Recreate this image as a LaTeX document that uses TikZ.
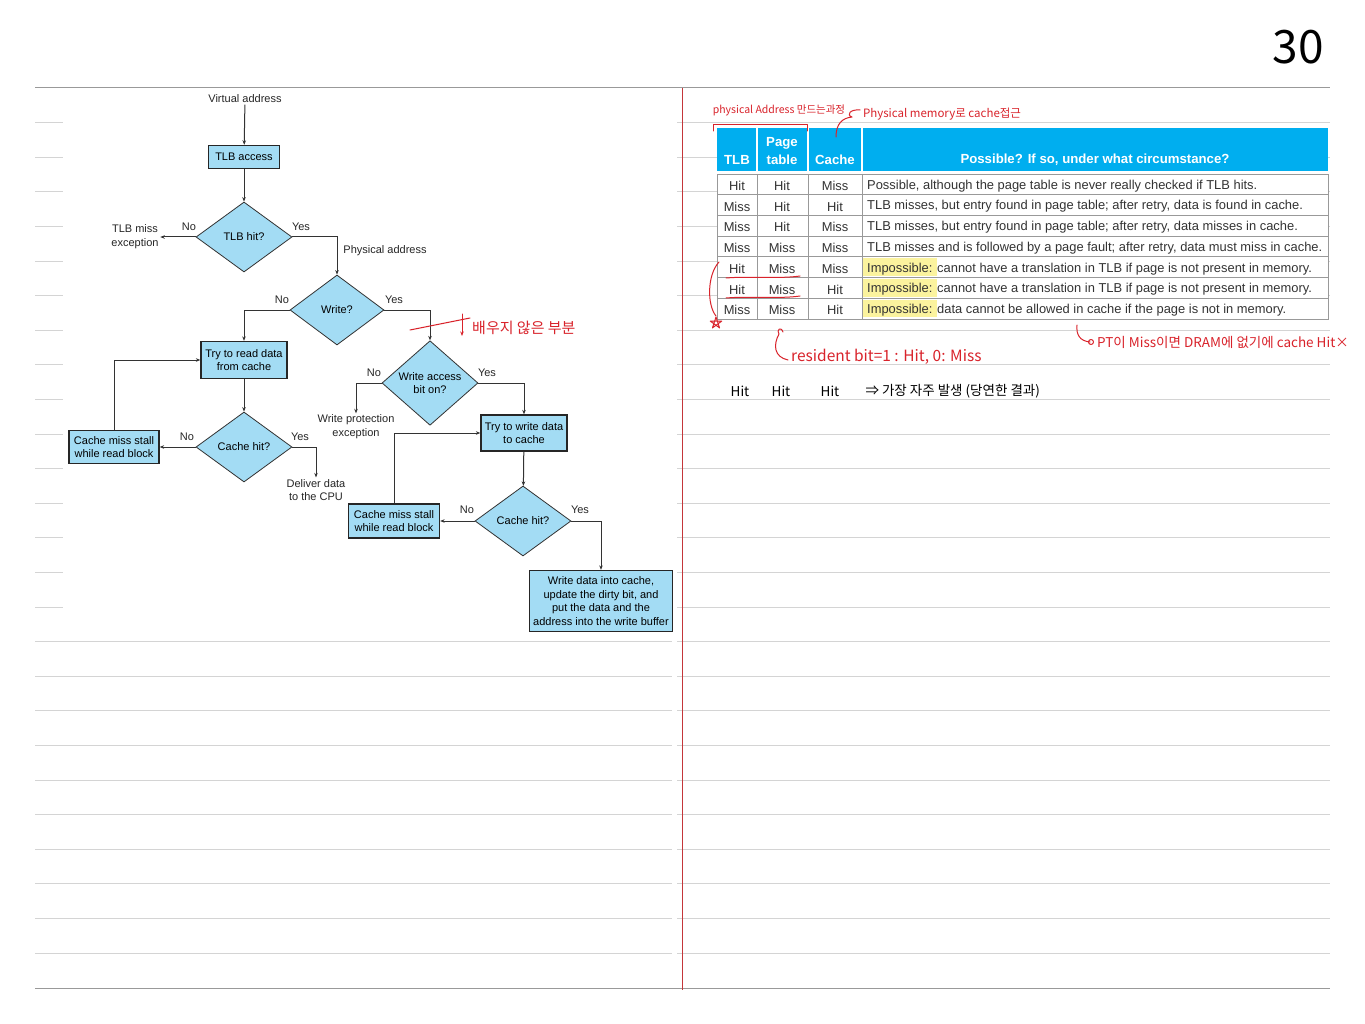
\documentclass[tikz,border=0pt]{standalone}
\usepackage{fontspec}
\setmainfont{Liberation Sans}
\newfontfamily\kr{Noto Sans CJK KR}
\usetikzlibrary{arrows.meta,positioning,shapes.geometric}
\definecolor{nodeblue}{HTML}{A3DCF4}
\definecolor{headblue}{HTML}{00AEEF}
\definecolor{penred}{HTML}{D9232B}
\definecolor{marginred}{HTML}{C4363A}
\definecolor{ruleg}{HTML}{D4D4D4}
\definecolor{hilite}{HTML}{FBF39E}
\definecolor{tabtext}{HTML}{333333}
\newcommand\flowfont{\fontsize{11}{13.7}\selectfont}
\newcommand\tabfont{\fontsize{12.9}{14}\selectfont}
\newcommand\headfont{\fontsize{13.2}{17.5}\selectfont\bfseries}

\begin{document}
\begin{tikzpicture}[x=1pt,y=-1pt,>={Stealth[length=4.5pt,width=3.5pt]},
  box/.style={rectangle,draw=black!85,fill=nodeblue,line width=1.3pt,align=center,inner sep=1pt,font=\flowfont},
  dec/.style={diamond,draw=black!80,fill=nodeblue,line width=0.8pt,align=center,inner sep=0pt,minimum width=96pt,minimum height=70pt,font=\flowfont},
  lbl/.style={align=center,inner sep=1.5pt,font=\flowfont,text=black!85},
  flow/.style={->,line width=1pt,draw=black!80},
  ruling/.style={draw=ruleg,line width=0.8pt},
  tline/.style={draw=black!40,line width=0.8pt},
  head/.style={text=white,font=\headfont,align=center,inner sep=0pt},
  cell/.style={text=tabtext,font=\tabfont,inner sep=0pt},
  ink/.style={draw=penred,line width=1pt,line cap=round,line join=round},
  hand/.style={text=penred,inner sep=0pt,font=\kr\fontsize{#1}{#1}\selectfont},
]
\useasboundingbox (0,0) rectangle (1365,1024);
\fill[white] (0,0) rectangle (1365,1024);

% notebook paper
\foreach \k in {1,...,15} \draw[ruling] (35,{88+34.6*\k}) -- (63,{88+34.6*\k});
\foreach \k in {16,...,25} \draw[ruling] (35,{88+34.6*\k}) -- (672,{88+34.6*\k});
\foreach \k in {1,...,25} \draw[ruling] (677,{88+34.6*\k}) -- (1330,{88+34.6*\k});
\draw[draw=black!40,line width=1pt] (35,88) -- (1330,88);
\draw[draw=black!40,line width=1pt] (35,988) -- (1330,988);
\draw[draw=marginred,line width=1pt] (682,88) -- (682,990);
\node[font=\kr\fontsize{46}{46}\selectfont] (pageno) at (1298,47) {30};

% flowchart
\node[lbl] (virt) at (245,99) {Virtual address};
\node[box,minimum width=71pt,minimum height=23pt] (tlbacc) at (244,157) {TLB access};
\node[dec] (tlbhit) at (244,237) {TLB hit?};
\node[lbl] (tlbmiss) at (135,237) {TLB miss\\exception};
\node[lbl] (phys) at (385,251) {Physical address};
\node[dec,minimum width=94pt] (wrq) at (337,310) {Write?};
\node[box,minimum width=86pt,minimum height=37pt] (readc) at (244,360) {Try to read data\\from cache};
\node[dec] (chitA) at (244,447) {Cache hit?};
\node[box,minimum width=90pt,minimum height=33pt] (missA) at (114,447) {Cache miss stall\\while read block};
\node[lbl] (deliver) at (316,490) {Deliver data\\to the CPU};
\node[dec] (wabit) at (430,383) {Write access\\bit on?};
\node[lbl] (wprot) at (356,427) {Write protection\\exception};
\node[box,minimum width=86pt,minimum height=36pt] (writec) at (524,433) {Try to write data\\to cache};
\node[dec] (chitB) at (523,521) {Cache hit?};
\node[box,minimum width=91pt,minimum height=34pt] (missB) at (394,521) {Cache miss stall\\while read block};
\node[box,minimum width=143pt,minimum height=61pt] (wbuf) at (601,601) {Write data into cache,\\update the dirty bit, and\\put the data and the\\address into the write buffer};

\foreach \n/\t/\p in {n1/No/{(189,227)},y1/Yes/{(301,227)},n2/No/{(282,300)},y2/Yes/{(394,300)},
  n3/No/{(187,437)},y3/Yes/{(300,437)},n4/No/{(374,373)},y4/Yes/{(487,373)},
  n5/No/{(467,510)},y5/Yes/{(580,510)}}
  \node[lbl] (\n) at \p {\t};

\draw[flow] (virt) -- (tlbacc);
\draw[flow] (tlbacc) -- (tlbhit);
\draw[flow] (tlbhit.west) -- (tlbmiss.east);
\draw[flow] (tlbhit.east) -| (wrq.north);
\draw[flow] (wrq.west) -| (readc.north);
\draw[flow] (readc) -- (chitA);
\draw[flow] (chitA.west) -- (missA.east);
\draw[flow] (missA.north) |- (readc.west);
\draw[flow] (chitA.east) -| (deliver.north);
\draw[flow] (wrq.east) -| (wabit.north);
\draw[flow] (wabit.west) -| (wprot.north);
\draw[flow] (wabit.east) -| (writec.north);
\draw[flow] (writec) -- (chitB);
\draw[flow] (chitB.west) -- (missB.east);
\draw[flow] (missB.north) |- (writec.west);
\draw[flow] (chitB.east) -| (wbuf.north);

% table
\fill[headblue] (717,128) rectangle (1328,171);
\foreach \x in {757,808,862} \draw[white,line width=1.5pt] (\x,128) -- (\x,171);
\node[head] (hTLB) at (737,160) {TLB};
\node[head] (hPT) at (782,151) {Page\\table};
\node[head] (hCache) at (835,160) {Cache};
\node[head] (hPoss) at (1095,160) {Possible? If so, under what circumstance?};
\fill[white] (717,174) rectangle (1328,319);
\foreach \i in {5,6,7} \fill[hilite] (863,{174+20.71*(\i-1)+1.5}) rectangle (937,{174+20.71*\i-1.5});
\foreach \i in {1,...,6} \draw[tline] (717,{174+20.71*\i}) -- (1328,{174+20.71*\i});
\foreach \x in {757,808,862} \draw[tline] (\x,174) -- (\x,319);
\draw[tline] (717,174) rectangle (1328,319);
\foreach \i/\a/\b/\c/\d in {
  1/Hit/Hit/Miss/{Possible, although the page table is never really checked if TLB hits.},
  2/Miss/Hit/Hit/{TLB misses, but entry found in page table; after retry, data is found in cache.},
  3/Miss/Hit/Miss/{TLB misses, but entry found in page table; after retry, data misses in cache.},
  4/Miss/Miss/Miss/{TLB misses and is followed by a page fault; after retry, data must miss in cache.},
  5/Hit/Miss/Miss/{Impossible: cannot have a translation in TLB if page is not present in memory.},
  6/Hit/Miss/Hit/{Impossible: cannot have a translation in TLB if page is not present in memory.},
  7/Miss/Miss/Hit/{Impossible: data cannot be allowed in cache if the page is not in memory.}} {
  \node[cell] (t\i-a) at (737,{175.5+20.71*(\i-0.5)}) {\a};
  \node[cell] (t\i-b) at (782,{175.5+20.71*(\i-0.5)}) {\b};
  \node[cell] (t\i-c) at (835,{175.5+20.71*(\i-0.5)}) {\c};
  \node[cell,anchor=west] (t\i-d) at (867,{175.5+20.71*(\i-0.5)}) {\d};
}

% red notes
\node[hand=10.5] (mkaddr) at (779,110) {physical Address 만드는과정};
\draw[ink] (713,131) -- (713,125) -- (807,125) -- (807,131);
\node[hand=11.5] (memcache) at (942,114) {Physical memory로 cache접근};
\draw[ink] (860,110) .. controls (850,109) and (846,115) .. (852,117)
  .. controls (842,118) and (836,124) .. (836,137);
\draw[ink] (726,278) .. controls (750,276) and (780,279) .. (800,276);
\draw[ink] (726,298) .. controls (750,296) and (780,299) .. (800,296);
\draw[ink] (719,262) .. controls (707,275) and (707,305) .. (716,316);
\draw[ink] (716,323) +(-90:6) -- +(54:6) -- +(198:6) -- +(342:6) -- +(126:6) -- cycle;
\draw[ink] (783,332) .. controls (781,326) and (776,330) .. (779,334)
  .. controls (773,345) and (774,357) .. (788,360);
\node[hand=15.5,anchor=west] (resbit) at (791,357) {resident bit=1 : Hit, 0: Miss};
\draw[ink] (1077,325) .. controls (1076,335) and (1080,341) .. (1090,342);
\draw[ink] (1091,342) circle (2.5);
\node[hand=13.5,anchor=west] (ptmiss) at (1097,342) {PT이 Miss이면 DRAM에 없기에 cache Hit×};
\draw[ink] (410,330) -- (470,318);
\draw[ink,->] (462,314) -- (462,336);
\node[hand=15,anchor=west] (notlearn) at (472,328) {배우지 않은 부분};

% black note
\foreach \n/\x in {hA/740,hB/781,hC/830}
  \node[font=\kr\fontsize{13.5}{13.5}\selectfont] (\n) at (\x,391) {Hit};
\node[font=\kr\fontsize{13.5}{13.5}\selectfont,anchor=west] (often) at (862,391) {⇒ 가장 자주 발생 (당연한 결과)};
\end{tikzpicture}
\end{document}
